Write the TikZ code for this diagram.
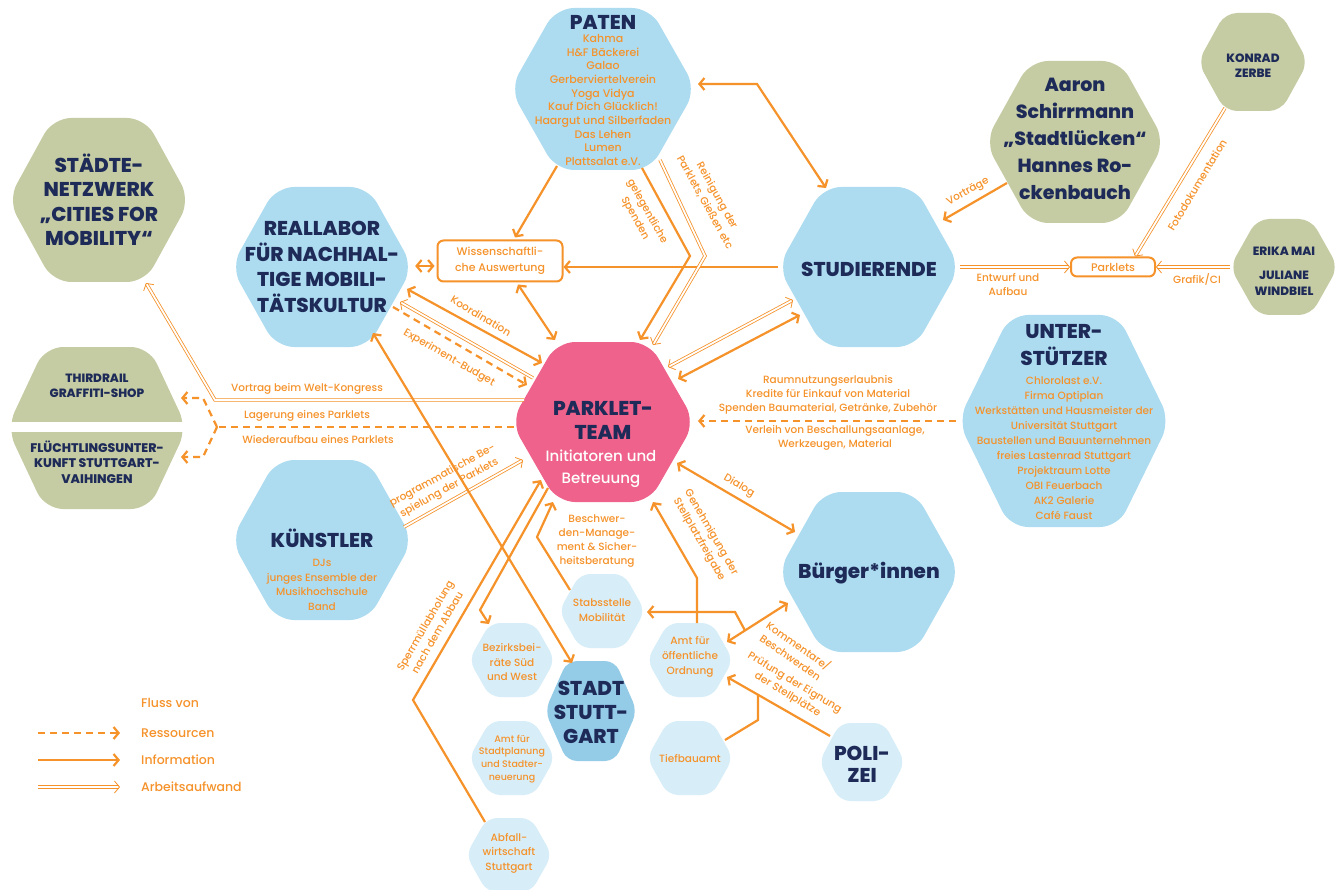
\documentclass[tikz,border=0pt]{standalone}
\usepackage{fontspec}
\setmainfont{Poppins}[UprightFont=* Medium, BoldFont=* ExtraBold]
\usetikzlibrary{arrows.meta,calc,positioning}
\definecolor{flow}{HTML}{F5922A}
\definecolor{navy}{HTML}{1E2B58}
\definecolor{skyblue}{HTML}{ADDCF1}
\definecolor{paleblue}{HTML}{D7EEF9}
\definecolor{cityblue}{HTML}{94CBE7}
\definecolor{teampink}{HTML}{EE628B}
\definecolor{olive}{HTML}{C5CCA3}
\newcommand\headfont{\fontsize{20}{25}\selectfont\bfseries}
\newcommand\listfont{\fontsize{11}{13.7}\selectfont}
\newcommand\edgefont{\fontsize{10.5}{14}\selectfont}
\newcommand\smallfont{\fontsize{10.5}{14.5}\selectfont}
% hexagon: name, centre, half width, half height, half top, fill
\newcommand\hexagon[6]{%
  \node[minimum width=2*#3, minimum height=2*#4, inner sep=0pt] (#1) at (#2) {};
  \fill[#6] ($(#1)+(-#3,0)$) -- ($(#1)+(-#5,-#4)$) -- ($(#1)+(#5,-#4)$)
    -- ($(#1)+(#3,0)$) -- ($(#1)+(#5,#4)$) -- ($(#1)+(-#5,#4)$) -- cycle;}
\tikzset{info/.style={draw=flow, line width=2.2pt},
         resource/.style={draw=flow, line width=2.2pt, dash pattern=on 7pt off 5pt},
         work/.style={draw=flow, line width=0.8pt, double=white, double distance=1.8pt},
         edgelabel/.style={text=flow, font=\edgefont, align=center, inner sep=1pt},
         hextitle/.style={text=navy, font=\headfont, align=center, inner sep=0pt},
         hexlist/.style={text=flow, font=\listfont, align=center, inner sep=0pt},
         smalltext/.style={text=flow, font=\smallfont, align=center, inner sep=0pt},
         box/.style={draw=flow, line width=2pt, rounded corners=6pt, text=flow,
                     font=\fontsize{11}{16}\selectfont, align=center, inner sep=0pt}}

\begin{document}
\begin{tikzpicture}[x=1pt, y=-1pt, >={Straight Barb[length=5pt,width=12pt]}]
    \fill[white] (0,0) rectangle (1343,890);
    \useasboundingbox (0,0) rectangle (1343,890);
    % We start by placing the hexagons
    \hexagon{paten}{603,89}{93}{81}{47}{skyblue, rounded corners=18pt}
    \hexagon{staedte}{99,200}{91}{82}{46}{olive, rounded corners=18pt}
    \hexagon{real}{322,267}{91}{80}{46}{skyblue, rounded corners=18pt}
    \hexagon{stud}{869,267}{91}{80}{46}{skyblue, rounded corners=18pt}
    \hexagon{aaron}{1075,142}{90}{81}{45}{olive, rounded corners=18pt}
    \hexagon{konrad}{1253,62}{55}{49}{28}{olive, rounded corners=12pt}
    \hexagon{erika}{1284,267}{54}{48}{27}{olive, rounded corners=12pt}
    \hexagon{unter}{1064,421}{106}{106}{54}{skyblue, rounded corners=18pt}
    \hexagon{team}{603,422}{92}{80}{46}{teampink, rounded corners=18pt}
    \hexagon{shops}{97,428}{90}{81}{52}{olive, rounded corners=18pt}
    \fill[white] (0,422) rectangle (200,432);
    \hexagon{kuenst}{322,540}{91}{80}{46}{skyblue, rounded corners=18pt}
    \hexagon{buerger}{869,572}{91}{80}{46}{skyblue, rounded corners=18pt}
    \hexagon{stadt}{591,711}{46}{50}{24}{cityblue, rounded corners=10pt}
    \hexagon{stabs}{602,611}{43}{37}{22}{paleblue, rounded corners=10pt}
    \hexagon{bezirk}{512,660}{43}{37}{22}{paleblue, rounded corners=10pt}
    \hexagon{planung}{512,758}{43}{37}{22}{paleblue, rounded corners=10pt}
    \hexagon{abfall}{509,855}{43}{37}{22}{paleblue, rounded corners=10pt}
    \hexagon{ordnung}{690,660}{43}{37}{22}{paleblue, rounded corners=10pt}
    \hexagon{tief}{690,758}{43}{37}{22}{paleblue, rounded corners=10pt}
    \hexagon{polizei}{862,762}{43}{39}{22}{paleblue, rounded corners=10pt}
    \node[box, minimum width=125pt, minimum height=41pt] (wiss) at (500,261) {Wissenschaftli-\\che Auswertung};
    \node[box, minimum width=84pt, minimum height=19pt] (parkl) at (1113,267) {Parklets};
    \node[hextitle, font=\fontsize{12}{15}\selectfont\bfseries] (third) at (97,386) {THIRDRAIL\\GRAFFITI-SHOP};
    \node[hextitle, font=\fontsize{12.5}{15.5}\selectfont\bfseries] (fluecht) at (97,462) {FLÜCHTLINGSUNTER-\\KUNFT STUTTGART-\\VAIHINGEN};
    % connectors around the team
    \draw[info,->] ($(paten)+(-46,77)$) -- ($(wiss.north)+(15,-2)$);
    \draw[info,<->] ($(real.east)+(2,-1)$) -- ($(wiss.west)+(-2,5)$);
    \draw[info,->] (stud.west) -- (stud.west -| wiss.east);
    \draw[info,<->] ($(wiss.south)+(18,2)$) -- ($(team)+(-48,-82)$);
    \draw[info,<->] ($(real)+(85,22)$) -- ($(team)+(-61,-59)$);
    \draw[work,->] ($(team)+(-70,-44)$) -- ($(real)+(78,35)$);
    \draw[resource,->] ($(real)+(71,40)$) -- ($(team)+(-76,-37)$);
    \coordinate (spendbend) at (690,256);
    \draw[info,->] ($(paten)+(39,79)$) -- (spendbend) -- ($(team)+(37,-82)$);
    \coordinate (cleanbend) at (705,256);
    \draw[work,->] ($(paten)+(57,71)$) -- (cleanbend) -- ($(team)+(50,-77)$);
    \coordinate (patenbend) at (757,84);
    \draw[info,<->] ($(paten)+(95,-5)$) -- (patenbend) -- ($(stud)+(-43,-79)$);
    \draw[work,<->] ($(stud)+(-76,33)$) -- ($(team)+(65,-55)$);
    \draw[info,<->] ($(stud)+(-69,48)$) -- ($(team)+(75,-43)$);
    \draw[work,->] (stud.east) -- (parkl.west);
    \draw[work,->] (erika.west) -- (parkl.east);
    \draw[work,->] ($(konrad)+(-28,46)$) -- ($(parkl.north)+(22,0)$);
    \draw[info,->] ($(aaron)+(-68,41)$) -- ($(stud)+(74,-47)$);
    \coordinate (kongressbend) at (215,400);
    \draw[work,->] ($(team)+(-79,-22)$) -- (kongressbend) -- ($(staedte)+(47,83)$);
    \coordinate (storefork) at (217,427);
    \coordinate (storeup) at (203,398);
    \coordinate (storedown) at (203,457);
    \draw[resource] ($(team)+(-89,5)$) -- (storefork);
    \draw[resource,->] (storefork) -- (storeup) -- ($(third)+(84,12)$);
    \draw[resource,->] (storefork) -- (storedown) -- ($(fluecht)+(84,-5)$);
    \draw[resource,->] ($(unter)+(-108,0)$) -- ($(team)+(95,-1)$);
    \draw[work,->] ($(kuenst)+(82,-13)$) -- ($(team)+(-80,38)$);
    \draw[info,<->] ($(real)+(51,66)$) -- ($(stadt)+(-19,-48)$);
    \coordinate (bezirkbend) at (480,610);
    \draw[info,->] ($(team)+(-55,66)$) -- (bezirkbend) -- ($(bezirk)+(-23,-36)$);
    \coordinate (muellbend) at (413,700);
    \draw[info,->] ($(abfall)+(-24,-33)$) -- (muellbend) -- ($(team)+(-62,58)$);
    \coordinate (stabsbend) at (537,537);
    \draw[info,->] ($(stabs)+(-32,-21)$) -- (stabsbend) -- ($(team)+(-50,80)$);
    \coordinate (ordnungbend) at (697,578);
    \draw[info,->] ($(ordnung)+(7,-37)$) -- (ordnungbend) -- ($(team)+(50,80)$);
    \draw[info,<->] ($(team)+(74,41)$) -- ($(buerger)+(-74,-40)$);
    \draw[info,<->] ($(buerger)+(-81,31)$) -- ($(ordnung)+(37,-18)$);
    \coordinate (kommentfork) at (745,630.5);
    \coordinate (stabsturn) at (735,612);
    \draw[info,->] (kommentfork) -- (stabsturn) -- ($(stabs)+(45,1)$);
    \draw[info,->] ($(polizei)+(-32,-26)$) -- ($(ordnung)+(37,17)$);
    \coordinate (tiefturn) at (758,720);
    \coordinate (tiefjoin) at (758,695);
    \draw[info] ($(tief)+(35,-18)$) -- (tiefturn) -- (tiefjoin);
    % texts of the hexagons
    \node[hextitle] (patenlbl) at (603,22) {PATEN};
    \node[hexlist] (patenlist) at (603,100) {Kahma\\H\&F Bäckerei\\Galao\\Gerberviertelverein\\Yoga Vidya\\Kauf Dich Glücklich!\\Haargut und Silberfaden\\Das Lehen\\Lumen\\Plattsalat e.V.};
    \node[hextitle, font=\fontsize{20}{24.5}\selectfont\bfseries] (staedtelbl) at (99,200) {STÄDTE-\\NETZWERK\\„CITIES FOR\\MOBILITY“};
    \node[hextitle, font=\fontsize{20}{25.7}\selectfont\bfseries] (reallbl) at (322,267) {REALLABOR\\FÜR NACHHAL-\\TIGE MOBILI-\\TÄTSKULTUR};
    \node[hextitle] (studlbl) at (869,269) {STUDIERENDE};
    \node[hextitle, font=\fontsize{19}{27}\selectfont\bfseries] (aaronlbl) at (1075,139) {Aaron\\Schirrmann\\„Stadtlücken“\\Hannes Ro-\\ckenbauch};
    \node[hextitle, font=\fontsize{12}{15}\selectfont\bfseries] (konradlbl) at (1253,66) {KONRAD\\ZERBE};
    \node[hextitle, font=\fontsize{12}{16}\selectfont\bfseries] (erikalbl) at (1284,251) {ERIKA MAI};
    \node[hextitle, font=\fontsize{12}{16}\selectfont\bfseries] (julianelbl) at (1284,283) {JULIANE\\WINDBIEL};
    \node[hextitle, font=\fontsize{20}{27}\selectfont\bfseries] (unterlbl) at (1064,345) {UNTER-\\STÜTZER};
    \node[hexlist, font=\fontsize{10.5}{15}\selectfont] (unterlist) at (1064,448) {Chlorolast e.V.\\Firma Optiplan\\Werkstätten und Hausmeister der\\Universität Stuttgart\\Baustellen und Bauunternehmen\\freies Lastenrad Stuttgart\\Projektraum Lotte\\OBI Feuerbach\\AK2 Galerie\\Café Faust};
    \node[hextitle, font=\fontsize{20}{24}\selectfont\bfseries] (teamlbl) at (603,420) {PARKLET-\\TEAM};
    \node[hextitle, text=white, font=\fontsize{15}{22}\selectfont] (teamsub) at (601,469) {Initiatoren und\\Betreuung};
    \node[hextitle] (kuenstlbl) at (322,538) {KÜNSTLER};
    \node[hexlist, font=\fontsize{10.5}{14.7}\selectfont] (kuenstlist) at (322,585) {DJs\\junges Ensemble der\\Musikhochschule\\Band};
    \node[hextitle] (buergerlbl) at (869,573) {Bürger*innen};
    \node[hextitle, font=\fontsize{20}{24}\selectfont\bfseries] (stadtlbl) at (591,712) {STADT\\STUTT-\\GART};
    \node[smalltext, font=\fontsize{10.5}{15}\selectfont] (stabslbl) at (602,610) {Stabsstelle\\Mobilität};
    \node[smalltext] (bezirklbl) at (512,662) {Bezirksbei-\\räte Süd\\und West};
    \node[smalltext, font=\fontsize{9.5}{12.8}\selectfont] (planunglbl) at (512,759) {Amt für\\Stadtplanung\\und Stadter-\\neuerung};
    \node[smalltext] (abfalllbl) at (509,853) {Abfall-\\wirtschaft\\Stuttgart};
    \node[smalltext, font=\fontsize{10.5}{15}\selectfont] (ordnunglbl) at (690,657) {Amt für\\öffentliche\\Ordnung};
    \node[smalltext] (tieflbl) at (690,758) {Tiefbauamt};
    \node[hextitle, font=\fontsize{20}{22}\selectfont\bfseries] (polizeilbl) at (862,764) {POLI-\\ZEI};
    % labels of the connectors
    \node[edgelabel, rotate=-31] (koordlbl) at (481,316) {Koordination};
    \node[edgelabel, rotate=-30] (budgetlbl) at (449,358) {Experiment-Budget};
    \node[edgelabel, rotate=-61] (spendlbl) at (641,215) {gelegentliche\\Spenden};
    \node[edgelabel, rotate=-61] (cleanlbl) at (711,199) {Reinigung der\\Parklets, Gießen etc};
    \node[edgelabel, rotate=29] (vortraglbl) at (968,192) {Vorträge};
    \node[edgelabel] (entwurflbl) at (1008,284) {Entwurf und\\Aufbau};
    \node[edgelabel] (grafiklbl) at (1197,279) {Grafik/CI};
    \node[edgelabel, rotate=59] (fotolbl) at (1197,185) {Fotodokumentation};
    \node[edgelabel] (kongresslbl) at (307,389) {Vortrag beim Welt-Kongress};
    \node[edgelabel] (lagerlbl) at (307,416) {Lagerung eines Parklets};
    \node[edgelabel] (aufbaulbl) at (318,439) {Wiederaufbau eines Parklets};
    \node[edgelabel] (spendenlbl) at (828,395) {Raumnutzungserlaubnis\\Kredite für Einkauf von Material\\Spenden Baumaterial, Getränke, Zubehör};
    \node[edgelabel] (verleihlbl) at (835,438) {Verleih von Beschallungsaanlage,\\Werkzeugen, Material};
    \node[edgelabel, rotate=29] (programmlbl) at (446,482) {programmatische Be-\\spielung der Parklets};
    \node[edgelabel, rotate=60] (muelllbl) at (431,629) {Sperrmüllabholung\\nach dem Abbau};
    \node[edgelabel] (beschwerlbl) at (597,541) {Beschwer-\\den-Manage-\\ment \& Sicher-\\heitsberatung};
    \node[edgelabel, rotate=-60] (genehmlbl) at (705,536) {Genehmigung der\\Stellplatzfreigabe};
    \node[edgelabel, rotate=-30] (dialoglbl) at (739,486) {Dialog};
    \node[edgelabel, rotate=-35] (kommentlbl) at (795,651) {Kommentare/\\Beschwerden};
    \node[edgelabel, rotate=-31] (pruefunglbl) at (791,689) {Prüfung der Eignung\\der Stellplätze};
    % legend
    \node[edgelabel, font=\fontsize{12.5}{15}\selectfont, anchor=west] (legendhead) at (140,703) {Fluss von};
    \node[edgelabel, font=\fontsize{12.5}{15}\selectfont, anchor=west] (legres) at (140,733) {Ressourcen};
    \node[edgelabel, font=\fontsize{12.5}{15}\selectfont, anchor=west] (leginfo) at (140,760) {Information};
    \node[edgelabel, font=\fontsize{12.5}{15}\selectfont, anchor=west] (legwork) at (140,787) {Arbeitsaufwand};
    \draw[resource,->] ($(legres.west)+(-102,0)$) -- ($(legres.west)+(-20,0)$);
    \draw[info,->] ($(leginfo.west)+(-102,0)$) -- ($(leginfo.west)+(-20,0)$);
    \draw[work,->] ($(legwork.west)+(-102,0)$) -- ($(legwork.west)+(-20,0)$);
\end{tikzpicture}
\end{document}
